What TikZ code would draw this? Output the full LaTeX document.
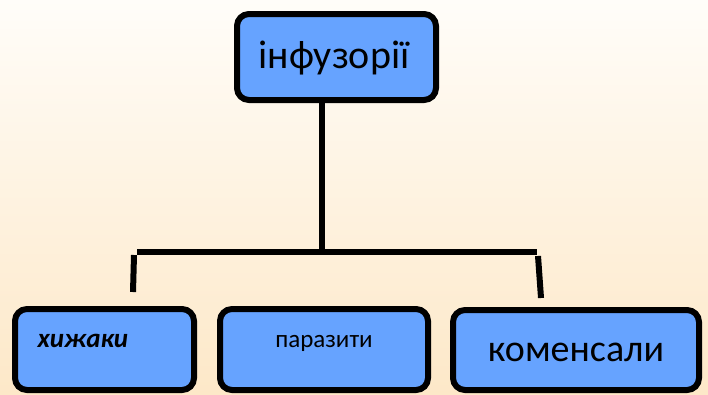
\documentclass[tikz,border=0pt]{standalone}
\usepackage{fontspec}
\setmainfont{Carlito}
\begin{document}
\begin{tikzpicture}[x=1pt,y=-1pt,
  box/.style={draw=black,line width=6pt,rounded corners=12pt,fill=boxblue},
  conn/.style={draw=black,line width=6pt}]
\definecolor{boxblue}{HTML}{66A3FF}
\definecolor{bgtop}{HTML}{FFFDF9}
\definecolor{bgbot}{HTML}{FDE8C8}
\useasboundingbox (0,0) rectangle (708,394);
\shade[top color=bgtop,bottom color=bgbot] (0,0) rectangle (708,394);
% boxes
\draw[box] (237,14) rectangle (436,100);
\node[font=\fontsize{40}{44}\selectfont] (inf) at (334,58) {інфузорії};
\draw[box] (15,309) rectangle (194,390);
\node[font=\fontsize{27}{30}\selectfont\bfseries\itshape,anchor=west] (hyz) at (34,341) {хижаки};
\draw[box] (220,309) rectangle (428,390);
\node[font=\fontsize{25}{28}\selectfont] (par) at (324,343) {паразити};
\draw[box] (453,310) rectangle (699,390);
\node[font=\fontsize{38}{42}\selectfont] (kom) at (576,352) {коменсали};
% connectors
\coordinate (topb) at (322,100);
\coordinate (mid) at (322,252);
\coordinate (hl) at (137,252);
\coordinate (hr) at (537,252);
\coordinate (l1) at (134,255);
\coordinate (l2) at (133,292);
\coordinate (r1) at (538,256);
\coordinate (r2) at (541,298);
\draw[conn] (topb) -- (mid);
\draw[conn] (hl) -- (hr);
\draw[conn] (l1) -- (l2);
\draw[conn] (r1) -- (r2);
\end{tikzpicture}
\end{document}
